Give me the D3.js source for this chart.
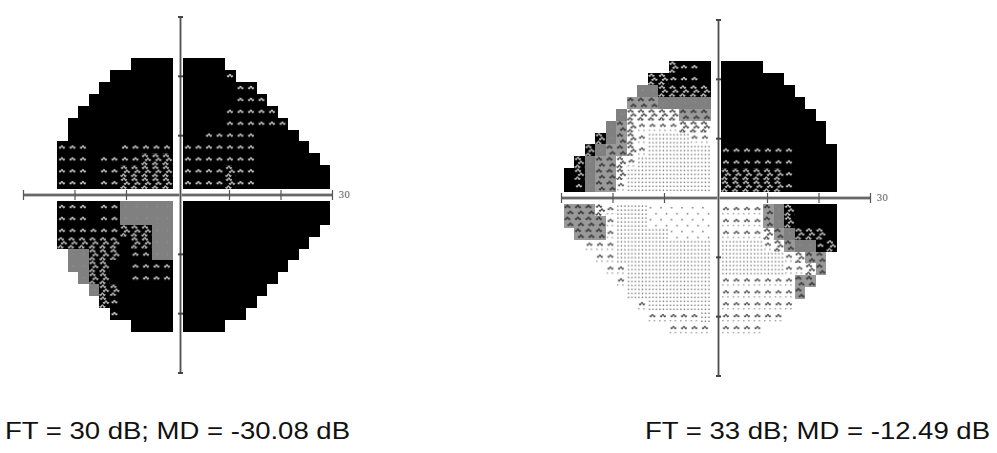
<!DOCTYPE html>
<html>
<head>
<meta charset="utf-8">
<script src="https://cdn.jsdelivr.net/npm/d3@7"></script>
<style>
  body { margin: 0; background: #fff; }
  svg { display: block; }
</style>
</head>
<body>
<svg id="field" width="997" height="453"></svg>
<script>
// test grid, 2 degree cells, gap of 1 degree around the axes
const colDeg = d3.range(-28, 0, 2).concat(d3.range(2, 30, 2));
const rowDeg = d3.range(22, 0, -2).concat(d3.range(-2, -24, -2));

// greyscale level per cell: 0 = lightest ... 8 = black, "." = not tested
const leftRows = [
  "..........8888" + "8888..........",
  "........888888" + "88886.........",
  ".......8888888" + "8888866.......",
  "......88888888" + "88888666......",
  ".....888888888" + "888866666.....",
  "....8888888888" + "8888666666....",
  "....8888888888" + "88666668888...",
  "...66688866666" + "666666688888..",
  "...66686666777" + "6666666888888.",
  "...66686677777" + "66667668888888",
  "...66686677777" + "66667668888888",
  "...66686655555" + "88888888888888",
  "...66686655555" + "88888888888888",
  "...66666677755" + "8888888888888.",
  "...77777787755" + "888888888888..",
  "....5577786655" + "88888888888...",
  "....5577886666" + "8888888888....",
  ".....577886666" + "888888888.....",
  "......57788888" + "88888888......",
  ".......7688888" + "8888888.......",
  "........688888" + "888888........",
  "..........8888" + "8888.........."
];

const rightRows = [
  "..........7668" + "8888..........",
  "........776668" + "888888........",
  ".......5577777" + "8888888.......",
  "......44455555" + "88888888......",
  ".....533333444" + "888888888.....",
  "....5432222333" + "8888888888....",
  "...75432111122" + "8888888888....",
  "..754432111111" + "66666668888...",
  ".7544321111111" + "66666668888...",
  "87544311111111" + "77777768888...",
  "86544211111111" + "77777768888...",
  "44432111000000" + "22224578888...",
  "44442111000000" + "22224578888...",
  ".4442111110000" + "22223457778...",
  "..222111111111" + "11112345567...",
  "...22111111111" + "1111112344....",
  "....2211111111" + "1111112234....",
  ".....211111111" + "222222244.....",
  "......11111111" + "22222224......",
  ".......2111111" + "2222222.......",
  "........222221" + "222222........",
  "..........2222" + "2222.........."
];

const axisTicks = [-20, -10, 10, 20];
const axisEndLabel = "30";
const captions = ["FT = 30 dB; MD = -30.08 dB", "FT = 33 dB; MD = -12.49 dB"];

// base colour of each greyscale level
const levelBase = ["#fff", "#fff", "#fff", "#fff", "#9a9a9a", "#808080", "#000", "#000", "#000"];

const svg = d3.select("#field");
const defs = svg.append("defs");

const charts = [
  { key: "a", rows: leftRows, cx: 178, cy: 195, caption: captions[0], capX: 5 },
  { key: "b", rows: rightRows, cx: 716, cy: 198, caption: captions[1], capX: 645 }
];

const degW = 5.25, degH = 5.95;

function tilde(g, x, y, color, w) {
  g.append("path")
    .attr("d", `M${x},${y + 1.5} q0.9,2.4 1.8,0 t1.8,0 t1.8,0`)
    .attr("fill", "none")
    .attr("stroke", color)
    .attr("stroke-width", w || 1.3);
}

function dot(g, x, y, s, color) {
  g.append("rect").attr("x", x).attr("y", y).attr("width", s).attr("height", s).attr("fill", color);
}

function makePatterns(key, x0, y0) {
  const cw = 2 * degW, ch = 2 * degH;
  const pats = d3.range(9).map(function (lv) {
    return defs.append("pattern")
      .attr("id", `p${key}${lv}`)
      .attr("patternUnits", "userSpaceOnUse")
      .attr("x", x0).attr("y", y0)
      .attr("width", cw).attr("height", ch);
  });
  // 0: sparse dots
  dot(pats[0], 2, 3, 1.5, "#777");
  dot(pats[0], 7.5, 9, 1.5, "#777");
  // 1: dot grid
  [1, 4.5, 8].forEach(function (x) {
    [1.5, 5.5, 9.5].forEach(function (y) {
      dot(pats[1], x, y, 1.4, "#7a7a7a");
    });
  });
  // 2: sparse tildes with dots
  tilde(pats[2], 2, 3, "#555");
  dot(pats[2], 1, 9, 1.3, "#888");
  dot(pats[2], 6, 9, 1.3, "#888");
  // 3: dense tildes
  tilde(pats[3], 1, 0.5, "#444");
  tilde(pats[3], 4, 4.5, "#444");
  tilde(pats[3], 0.5, 8.5, "#444");
  // 4: grey with dark marks
  tilde(pats[4], 1, 1, "#3a3a3a", 1.5);
  tilde(pats[4], 4, 7, "#3a3a3a", 1.5);
  // 5: grey
  dot(pats[5], 5, 5, 1, "#999");
  // 6: black with sparse light marks
  tilde(pats[6], 2, 4, "#cfcfcf");
  // 7: black with dense light marks
  tilde(pats[7], 1, 0.5, "#c4c4c4");
  tilde(pats[7], 4, 4.5, "#c4c4c4");
  tilde(pats[7], 0.5, 8.5, "#c4c4c4");
}

charts.forEach(function (c) {
  const xCell = d3.scaleLinear().domain([-30, 30]).range([c.cx - 30 * degW, c.cx + 30 * degW]);
  const yCell = d3.scaleLinear().domain([-30, 30]).range([c.cy + 30 * degH, c.cy - 30 * degH]);
  const xAx = d3.scaleLinear().domain([-30, 30]).range([c.cx - 154.5, c.cx + 154.5]);
  const yAx = d3.scaleLinear().domain([-30, 30]).range([c.cy + 178, c.cy - 178]);
  const vx = c.cx + 2.5;

  makePatterns(c.key, xCell(1), yCell(1));

  const cells = [];
  c.rows.forEach(function (row, r) {
    row.split("").forEach(function (ch, i) {
      if (ch !== ".") cells.push({ x: colDeg[i], y: rowDeg[r], level: +ch });
    });
  });

  const g = svg.append("g");

  function cellRects(layer, fill) {
    layer.selectAll("rect")
      .data(cells)
      .enter()
      .append("rect")
      .attr("shape-rendering", "crispEdges")
      .attr("x", function (d) { return xCell(d.x - 1); })
      .attr("y", function (d) { return yCell(d.y + 1); })
      .attr("width", function (d) { return xCell(d.x + 1) - xCell(d.x - 1); })
      .attr("height", function (d) { return yCell(d.y - 1) - yCell(d.y + 1); })
      .attr("fill", fill);
  }
  cellRects(g.append("g"), function (d) { return levelBase[d.level]; });
  cellRects(g.append("g"), function (d) { return `url(#p${c.key}${d.level})`; });

  // axes
  const ax = g.append("g").attr("stroke-linecap", "butt");
  ax.append("line")
    .attr("x1", xAx(-30)).attr("x2", xAx(30))
    .attr("y1", c.cy).attr("y2", c.cy)
    .attr("stroke", "#b0b0b0").attr("stroke-width", 3.5);
  ax.append("line")
    .attr("x1", xAx(-30)).attr("x2", xAx(30))
    .attr("y1", c.cy).attr("y2", c.cy)
    .attr("stroke", "#505050").attr("stroke-width", 1.3);
  ax.append("line")
    .attr("x1", vx).attr("x2", vx)
    .attr("y1", yAx(30)).attr("y2", yAx(-30))
    .attr("stroke", "#aaa").attr("stroke-width", 2.6);
  ax.append("line")
    .attr("x1", vx).attr("x2", vx)
    .attr("y1", yAx(30)).attr("y2", yAx(-30))
    .attr("stroke", "#505050").attr("stroke-width", 1.1);

  ax.selectAll(".xt")
    .data(axisTicks.concat([-30, 30]))
    .enter()
    .append("line")
    .attr("x1", function (d) { return xAx(d); })
    .attr("x2", function (d) { return xAx(d); })
    .attr("y1", c.cy - 5).attr("y2", c.cy + 5)
    .attr("stroke", "#555").attr("stroke-width", 1.2);

  ax.selectAll(".yt")
    .data(axisTicks.concat([-30, 30]))
    .enter()
    .append("line")
    .attr("x1", vx - 2.5).attr("x2", vx + 2.5)
    .attr("y1", function (d) { return yAx(d); })
    .attr("y2", function (d) { return yAx(d); })
    .attr("stroke", "#444").attr("stroke-width", 2);

  g.append("text")
    .attr("x", xAx(30) + 6)
    .attr("y", c.cy + 3)
    .attr("font-family", "DejaVu Serif, serif")
    .attr("font-size", 9)
    .attr("fill", "#555")
    .text(axisEndLabel);

  svg.append("text")
    .attr("x", c.capX)
    .attr("y", 439)
    .attr("font-family", "Liberation Sans, Arial, sans-serif")
    .attr("font-size", 24)
    .attr("fill", "#111")
    .attr("textLength", 345)
    .attr("lengthAdjust", "spacingAndGlyphs")
    .text(c.caption);
});
</script>
</body>
</html>
